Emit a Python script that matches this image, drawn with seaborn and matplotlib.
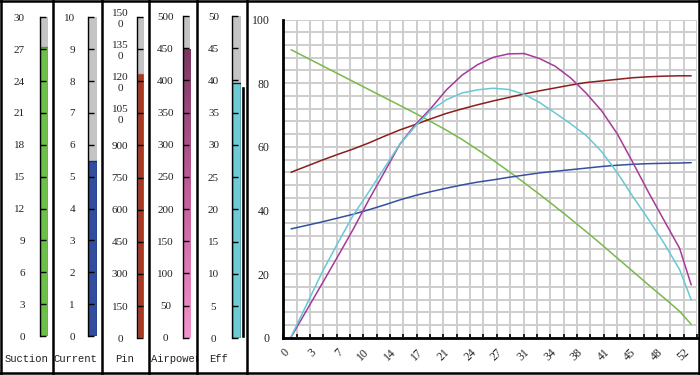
import numpy as np
import pandas as pd
import matplotlib.pyplot as plt
import seaborn as sns
from matplotlib.lines import Line2D
from matplotlib.colors import LinearSegmentedColormap
from matplotlib.transforms import Bbox, TransformedBbox

sns.set_style("white")
plt.rcParams['font.family'] = ['Liberation Serif', 'DejaVu Serif']

# gauges (left panels)
gauge_names = ["Suction", "Current", "Pin", "Airpower", "Eff"]
gauge_values = [27.2, 5.5, 1237, 449, 39.6]
gauge_max = [30, 10, 1500, 500, 50]
gauge_step = [3, 1, 150, 50, 5]
pin_labels = ["0", "150", "300", "450", "600", "750", "900",
              "105\n0", "120\n0", "135\n0", "150\n0"]

# performance curves (right panel)
flow = [1, 3, 5, 7, 9, 11, 13, 15, 17, 19, 21, 23, 25, 27, 29, 31, 33, 35, 37,
        39, 41, 43, 45, 47, 49, 51, 52.5]
suction_pct = [90.5, 88.0, 85.5, 83.0, 80.5, 78.0, 75.5, 73.0, 70.5, 67.9, 65.2,
               62.3, 59.1, 55.8, 52.3, 48.7, 45.0, 41.2, 37.3, 33.3, 29.2, 25.0,
               20.8, 16.6, 12.5, 8.3, 4.2]
current_pct = [34.2, 35.3, 36.4, 37.6, 38.8, 40.2, 41.7, 43.3, 44.7, 45.9, 47.0,
               48.0, 48.9, 49.6, 50.4, 51.1, 51.8, 52.3, 52.8, 53.3, 53.8, 54.2,
               54.5, 54.7, 54.8, 54.9, 55.0]
pin_pct = [52.0, 53.9, 55.8, 57.6, 59.3, 61.2, 63.3, 65.3, 67.0, 68.8, 70.5, 71.9,
           73.2, 74.4, 75.5, 76.6, 77.6, 78.5, 79.4, 80.2, 80.7, 81.2, 81.7, 82.0,
           82.2, 82.3, 82.3]
airpower_pct = [0.2, 8.6, 17.0, 25.5, 34.1, 43.3, 52.0, 60.8, 67.0, 72.1, 77.9,
                82.5, 85.8, 88.1, 89.2, 89.3, 87.7, 85.3, 81.6, 76.8, 71.2, 64.0,
                55.0, 45.7, 36.9, 28.1, 16.6]
eff_pct = [0.3, 10.4, 20.6, 29.7, 38.5, 45.8, 53.3, 60.8, 66.5, 71.5, 74.8, 76.9,
           77.9, 78.4, 78.0, 76.5, 73.9, 70.6, 67.2, 63.5, 58.4, 51.8, 44.3, 37.2,
           29.7, 21.4, 11.9]
x_major = 3.435
x_labels = ["0", "3", "7", "10", "14", "17", "21", "24", "27", "31", "34", "38",
            "41", "45", "48", "52"]

W, H = 700, 375
fig = plt.figure(figsize=(7, 3.75), dpi=100)


def px_box(x0, x1, ytop, ybot):
    return [x0 / W, 1 - ybot / H, (x1 - x0) / W, (ybot - ytop) / H]


gauge_colors = ["#6cbf48", "#2f4e9e", "#a8391f", "#c0609a", "#6ccbd5"]
gauge_edges = ["#4f9a33", "#1c2c6a", "#d9a6d2", "#e7a2cf", "#202020"]
gauge_pos = [(40, 47.7, 17.3, 336), (88.3, 96.7, 17.3, 336),
             (136.7, 144, 16.7, 338.3), (182.7, 190, 16, 337.7),
             (232.3, 240.7, 16, 338.3)]
label_ha = ["right", "right", "center", "center", "center"]
label_pad = [10.8, 9.6, 12.0, 12.4, 13.5]

for i, name in enumerate(gauge_names):
    ax = fig.add_axes(px_box(*gauge_pos[i]))
    ax.set_facecolor("#c4c4c4")
    sns.barplot(x=[name], y=[gauge_values[i]], color=gauge_colors[i], saturation=1,
                width=1, edgecolor=gauge_edges[i], linewidth=1, ax=ax)
    if name == "Airpower":
        bar = ax.patches[0]
        cmap = LinearSegmentedColormap.from_list("ap", ["#f493cb", "#c45e9a", "#7b3862"])
        grad = np.linspace(0, 1, 100).reshape(-1, 1)
        im = ax.imshow(grad, extent=[-0.5, 0.5, 0, gauge_values[i]], origin="lower",
                       aspect="auto", cmap=cmap, zorder=1.5)
        im.set_clip_path(bar)
    ax.set_axisbelow(False)
    ax.set_xlim(-0.5, 0.5)
    ax.set_ylim(0, gauge_max[i])
    ticks = np.arange(0, gauge_max[i] + 1, gauge_step[i])
    ax.set_yticks(ticks)
    if name == "Pin":
        ax.set_yticklabels(pin_labels)
    else:
        ax.set_yticklabels([str(t) for t in ticks])
    ax.set_xticks([])
    ax.set_xlabel("")
    ax.set_ylabel("")
    for s in ["top", "right", "bottom"]:
        ax.spines[s].set_visible(False)
    ax.spines["left"].set_color("black")
    ax.spines["left"].set_linewidth(1)
    ax.tick_params(axis="y", left=True, direction="in", length=4, width=1, color="black",
                   pad=label_pad[i], labelsize=8, labelcolor="#222222")
    for lab in ax.get_yticklabels():
        lab.set_horizontalalignment(label_ha[i])
        lab.set_linespacing(1.3)

# black shadow next to the Eff tube
ax_sh = fig.add_axes(px_box(240.7, 245, 16, 338.3))
sns.barplot(x=["Eff"], y=[gauge_values[4] - 0.4], color="black", saturation=1,
            width=1, ax=ax_sh)
ax_sh.set_xlim(-0.5, 0.5)
ax_sh.set_ylim(0, gauge_max[4])
ax_sh.axis("off")

# gauge names under panels
name_x = [26, 75.7, 125, 151, 219]
for i, name in enumerate(gauge_names):
    t = fig.text(name_x[i] / W, 1 - 359 / H, name, ha="left" if name == "Airpower" else "center",
                 va="center", fontsize=7.6, family=["Liberation Mono", "DejaVu Sans Mono"],
                 color="#222222")
    if name == "Airpower":
        t.set_clip_box(TransformedBbox(Bbox([[149 / W, 0], [196.5 / W, 1]]), fig.transFigure))
        t.set_clip_on(True)

# line chart
ax = fig.add_axes(px_box(283.3, 697, 19.5, 337.7))
df = pd.DataFrame({
    "flow": flow * 5,
    "value": suction_pct + current_pct + pin_pct + airpower_pct + eff_pct,
    "series": (["Suction"] * len(flow) + ["Current"] * len(flow) + ["Pin"] * len(flow)
               + ["Airpower"] * len(flow) + ["Eff"] * len(flow)),
})
palette = {"Suction": "#79b94c", "Current": "#3450a0", "Pin": "#8b1d1d",
           "Airpower": "#a6399b", "Eff": "#66c9d4"}
sns.lineplot(data=df, x="flow", y="value", hue="series", palette=palette,
             linewidth=1.1, legend=False, ax=ax)
ax.set_xlim(0, 31 * x_major / 2)
ax.set_ylim(0, 100)
ax.set_xticks(np.arange(len(x_labels)) * x_major)
ax.set_xticklabels(x_labels)
ax.set_xticks(np.arange(32) * x_major / 2, minor=True)
ax.set_yticks(np.arange(0, 101, 20))
ax.set_yticks(np.arange(0, 101, 4), minor=True)
ax.set_axisbelow(True)
ax.grid(which="both", color="#cdcdcd", linewidth=1.4)
ax.set_xlabel("")
ax.set_ylabel("")
for s in ["top", "right"]:
    ax.spines[s].set_visible(False)
for s in ["left", "bottom"]:
    ax.spines[s].set_color("black")
    ax.spines[s].set_linewidth(2)
ax.tick_params(axis="x", which="both", bottom=True, direction="in", length=3, width=1.2,
               color="black")
ax.tick_params(axis="y", which="both", direction="in", length=0)
ax.tick_params(axis="x", which="major", pad=6, labelsize=8.5, labelcolor="#222222")
ax.tick_params(axis="y", which="major", pad=10, labelsize=8.5, labelcolor="#222222")
plt.setp(ax.get_xticklabels(), rotation=45, ha="right", rotation_mode="anchor")

# panel frames
frame = dict(transform=fig.transFigure, color="black", linewidth=1.8, zorder=20)
for xv in [1.2, 52.8, 102, 148.8, 197.2, 247.2, 698.6]:
    fig.add_artist(Line2D([xv / W, xv / W], [0, 1], **frame))
for yv in [1.2, 373]:
    fig.add_artist(Line2D([0, 1], [1 - yv / H, 1 - yv / H], **frame))

fig.savefig("out.png", dpi=100)
